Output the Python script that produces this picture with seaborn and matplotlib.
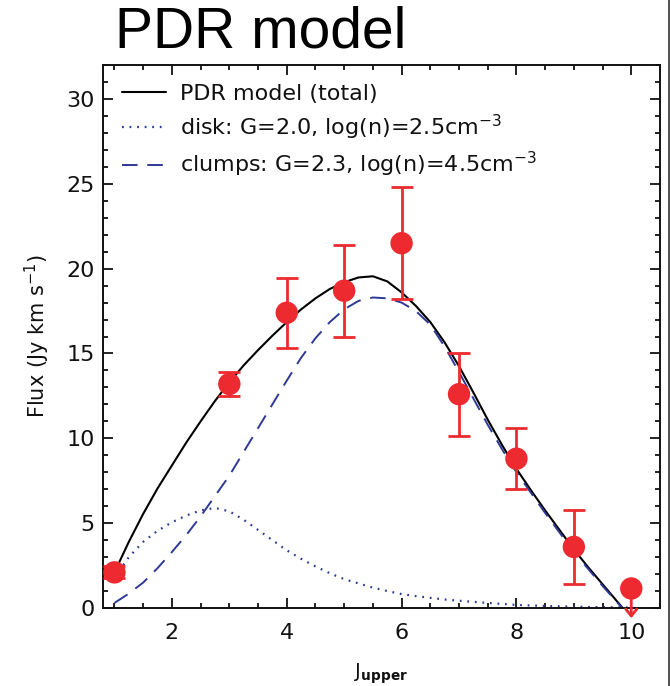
import numpy as np
import pandas as pd
import matplotlib
matplotlib.use("Agg")
import matplotlib.pyplot as plt
import seaborn as sns
from matplotlib.lines import Line2D
from matplotlib.ticker import MultipleLocator

# model curves (J_upper grid, flux in Jy km/s)
j_model = [1.0, 1.25, 1.5, 1.75, 2.0, 2.25, 2.5, 2.75, 3.0, 3.25,
           3.5, 3.75, 4.0, 4.25, 4.5, 4.75, 5.0, 5.25, 5.5, 5.75,
           6.0, 6.25, 6.5, 6.75, 7.0, 7.25, 7.5, 7.75, 8.0, 8.25,
           8.5, 8.75, 9.0, 9.25, 9.5, 9.75, 10.0]
total_flux = [2.1, 3.9, 5.55, 7.05, 8.4, 9.75, 11.0, 12.2, 13.3, 14.3,
              15.2, 16.05, 16.85, 17.6, 18.25, 18.8, 19.2, 19.48, 19.55, 19.25,
              18.6, 17.8, 16.85, 15.65, 14.25, 12.7, 11.1, 9.6, 8.2, 6.95,
              5.75, 4.6, 3.45, 2.4, 1.4, 0.4, -0.6]
disk_flux = [1.8, 3.0, 3.9, 4.55, 5.05, 5.45, 5.75, 5.9, 5.7, 5.2,
             4.6, 4.0, 3.4, 2.9, 2.45, 2.05, 1.7, 1.45, 1.2, 1.0,
             0.82, 0.7, 0.6, 0.5, 0.43, 0.36, 0.3, 0.24, 0.18, 0.15,
             0.12, 0.1, 0.08, 0.06, 0.05, 0.04, 0.03]
clumps_flux = [0.3, 0.85, 1.5, 2.35, 3.3, 4.3, 5.4, 6.6, 7.8, 9.2,
               10.6, 12.0, 13.4, 14.75, 15.9, 16.85, 17.6, 18.1, 18.3, 18.25,
               18.0, 17.5, 16.7, 15.4, 13.9, 12.35, 10.8, 9.35, 8.0, 6.8,
               5.6, 4.45, 3.3, 2.3, 1.3, 0.35, -0.6]

# observed line fluxes
j_obs = [1, 3, 4, 5, 6, 7, 8, 9]
flux_obs = [2.1, 13.2, 17.4, 18.7, 21.5, 12.6, 8.8, 3.6]
flux_err = [0.35, 0.7, 2.05, 2.7, 3.3, 2.45, 1.8, 2.2]
j_limit = [10]
flux_limit = [1.15]

labels = ["PDR model (total)",
          "disk: G=2.0, log(n)=2.5cm$^{-3}$",
          "clumps: G=2.3, log(n)=4.5cm$^{-3}$"]

red = "#ED2A30"
blue = "#2E3A94"
ink = "#111111"

sns.set_style("ticks")
plt.rcParams["font.family"] = ["DejaVu Sans"]
plt.rcParams["mathtext.default"] = "regular"
plt.rcParams["text.color"] = ink
plt.rcParams["axes.labelcolor"] = ink

fig = plt.figure(figsize=(6.71, 6.86), dpi=100)
ax = fig.add_axes([0.1535, 0.1137, 0.8301, 0.7915])

model_df = pd.DataFrame({"J": j_model, "total": total_flux,
                         "disk": disk_flux, "clumps": clumps_flux})
dotted = (0, (0.8, 2.6))
dashed = (0, (8, 5))
sns.lineplot(data=model_df, x="J", y="total", ax=ax, color="black", lw=1.5)
sns.lineplot(data=model_df, x="J", y="disk", ax=ax, color=blue, lw=1.6,
             linestyle=dotted)
sns.lineplot(data=model_df, x="J", y="clumps", ax=ax, color=blue, lw=1.4,
             linestyle=dashed)

ax.errorbar(j_obs, flux_obs, yerr=flux_err, fmt="none", ecolor=red,
            elinewidth=2, capsize=8, capthick=2, zorder=4)
sns.scatterplot(x=j_obs, y=flux_obs, ax=ax, color=red, s=260,
                edgecolor="none", zorder=5)
sns.scatterplot(x=j_limit, y=flux_limit, ax=ax, color=red, s=260,
                edgecolor="none", zorder=5, clip_on=False)
for jl, fl in zip(j_limit, flux_limit):
    ax.annotate("", xy=(jl, -0.6), xytext=(jl, fl),
                arrowprops=dict(arrowstyle="->,head_length=0.5,head_width=0.4",
                                color=red, lw=2, shrinkA=0, shrinkB=0),
                annotation_clip=False, zorder=4)

ax.set_xlim(0.8, 10.5)
ax.set_ylim(0, 32)
ax.xaxis.set_major_locator(MultipleLocator(2))
ax.xaxis.set_minor_locator(MultipleLocator(0.5))
ax.yaxis.set_major_locator(MultipleLocator(5))
ax.yaxis.set_minor_locator(MultipleLocator(1))
ax.tick_params(which="both", direction="in", top=True, right=True,
               width=1.3, labelsize=16, colors=ink)
ax.tick_params(which="major", length=7)
ax.tick_params(axis="x", which="major", pad=11)
ax.tick_params(axis="y", which="major", pad=6)
ax.tick_params(which="minor", length=3.5)
for sp in ax.spines.values():
    sp.set_linewidth(1.4)
    sp.set_color(ink)

ax.set_xlabel("J$_{\\bf upper}$", fontsize=14, labelpad=13)
ax.set_ylabel("Flux (Jy km s$^{-1}$)", fontsize=15, labelpad=10)

handles = [Line2D([], [], color="black", lw=1.5),
           Line2D([], [], color=blue, lw=1.6, linestyle=dotted),
           Line2D([], [], color=blue, lw=1.4, linestyle=dashed)]
ax.legend(handles, labels, loc="upper left", frameon=False, fontsize=16,
          handlelength=2.0, handletextpad=0.6, labelspacing=0.38,
          borderaxespad=0.4, borderpad=0.45)

fig.text(115 / 671, 1 - 33 / 686, "PDR model", fontsize=41,
         family="Liberation Sans", va="center", ha="left", color="black")
fig.add_artist(Line2D([669 / 671, 669 / 671], [0, 1], transform=fig.transFigure,
                      color="#333333", lw=1.2))

fig.savefig("out.png", dpi=100)
